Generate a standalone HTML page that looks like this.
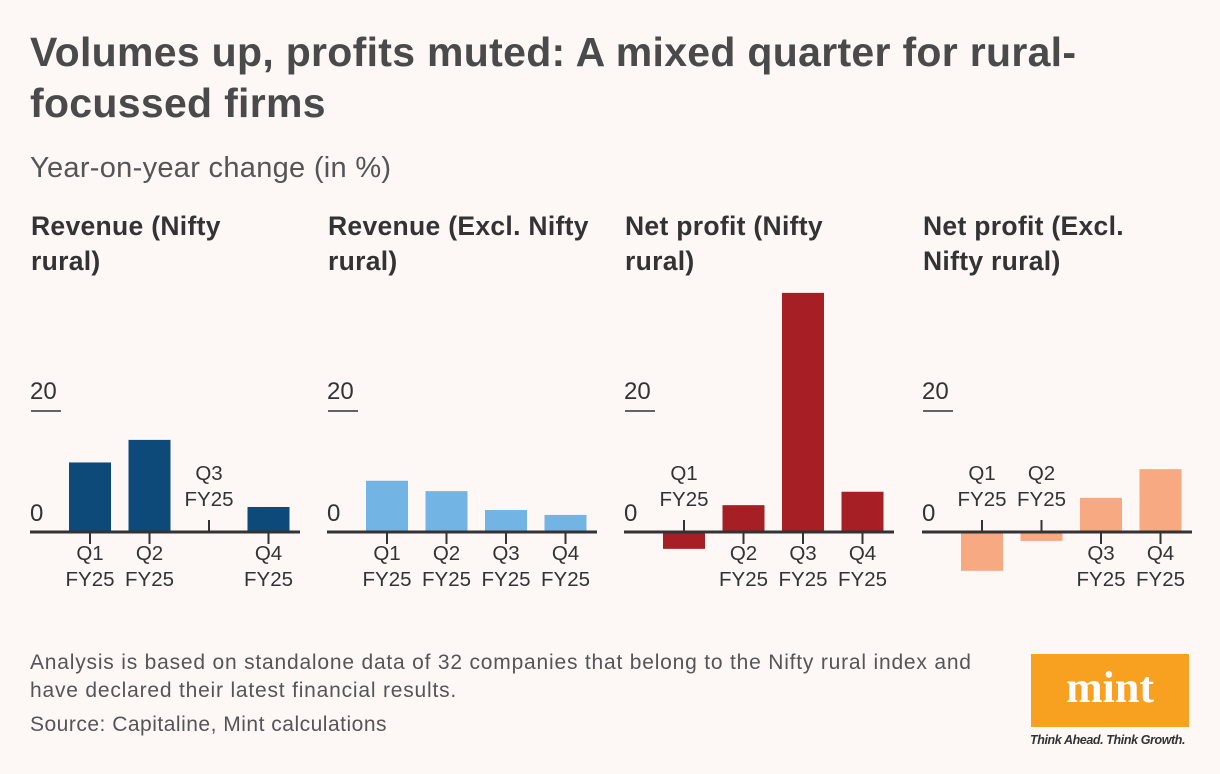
<!DOCTYPE html>
<html><head><meta charset="utf-8">
<style>
body{margin:0;background:#fdf7f6;width:1220px;height:774px;overflow:hidden;font-family:"Liberation Sans",sans-serif;position:relative}
.t{position:absolute;margin:0}
</style></head><body>
<h1 class="t" style="left:30px;top:27px;font-size:41px;line-height:51px;font-weight:bold;color:#4a4a4a;letter-spacing:0.3px;width:1150px;white-space:nowrap">Volumes up, profits muted: A mixed quarter for rural-<br>focussed firms</h1>
<div class="t" style="left:30px;top:152px;font-size:29px;color:#555;letter-spacing:0.3px">Year-on-year change (in %)</div>
<svg id="c" width="1220" height="774" style="position:absolute;left:0;top:0"></svg>
<div class="t" style="left:30px;top:649px;font-size:21px;line-height:28px;color:#555;width:990px;letter-spacing:0.8px;white-space:nowrap">Analysis is based on standalone data of 32 companies that belong to the Nifty rural index and<br>have declared their latest financial results.</div>
<div class="t" style="left:30px;top:713px;font-size:21px;color:#555;letter-spacing:0.5px">Source: Capitaline, Mint calculations</div>
<div class="t" style="left:1031px;top:654px;width:158px;height:73px;background:#f8a01f;color:#fff;font-family:'Liberation Serif',serif;font-weight:bold;font-size:44px;text-align:center;line-height:68px">mint</div>
<div class="t" style="left:1030px;top:733px;font-size:12.5px;font-style:italic;font-weight:bold;color:#333;letter-spacing:-0.4px">Think Ahead. Think Growth.</div>
<script>
const categories=["Q1","Q2","Q3","Q4"];
const panelTitles=["Revenue (Nifty|rural)","Revenue (Excl. Nifty|rural)","Net profit (Nifty|rural)","Net profit (Excl.|Nifty rural)"];
const colors=["#0d4a7a","#72b4e4","#a51f24","#f7a982"];
const s1=[11.4,15.1,0,4.1];
const s2=[8.4,6.7,3.6,2.8];
const s3=[-2.6,4.4,39.2,6.6];
const s4=[-6.2,-1.3,5.6,10.3];
const series=[s1,s2,s3,s4];
const ticks=[0,20];
const svg=document.getElementById('c');
const NS='http://www.w3.org/2000/svg';
const offs=[0,297,594,892];
const y0=532,scale=6.1;
const y=v=>y0-v*scale;
function mk(t,a){const e=document.createElementNS(NS,t);for(const k in a)e.setAttribute(k,a[k]);svg.appendChild(e);return e;}
function txt(x,yy,s,size,w,anchor){const e=mk('text',{x:x,y:yy,'font-size':size,'font-weight':w||'normal',fill:'#333','text-anchor':anchor||'start','font-family':'Liberation Sans, sans-serif'});e.textContent=s;return e;}
series.forEach((data,p)=>{
  const ox=offs[p];
  const tl=panelTitles[p].split('|');
  tl.forEach((l,i)=>{const e=txt(31+ox,235+i*35,l,26.5,'bold');
    
    
    e.setAttribute('letter-spacing','0.3');});
  ticks.forEach(t=>{const e=txt(30+ox,y(t)-11,String(t),24,'normal');
    
    });
  const u=mk('line',{x1:31+ox,x2:61+ox,y1:y(20)+1,y2:y(20)+1,stroke:'#333','stroke-width':1.5});
  
  
  data.forEach((v,i)=>{
    const cx=90+ox+i*59.5;
    if(v!==0){const top=v>0?y(v):y0+1,h=Math.abs(v)*scale;
      const r=mk('rect',{x:cx-21,y:top,width:42,height:h,fill:colors[p]});
      
      }
    const above=v<=0;
    const tk=mk('line',{x1:cx,x2:cx,y1:above?y0-12:y0,y2:above?y0:y0+12,stroke:'#333','stroke-width':2});
    
    
    const ly=above?480:560;
    const a=txt(cx,ly,categories[i],20.5,'normal','middle');
    
    
    const b=txt(cx,ly+26,'FY25',20.5,'normal','middle');
    
    
  });
  const ax=mk('line',{x1:30+ox,x2:300+ox,y1:y0,y2:y0,stroke:'#333','stroke-width':3});
  
  
});
</script>
</body></html>
